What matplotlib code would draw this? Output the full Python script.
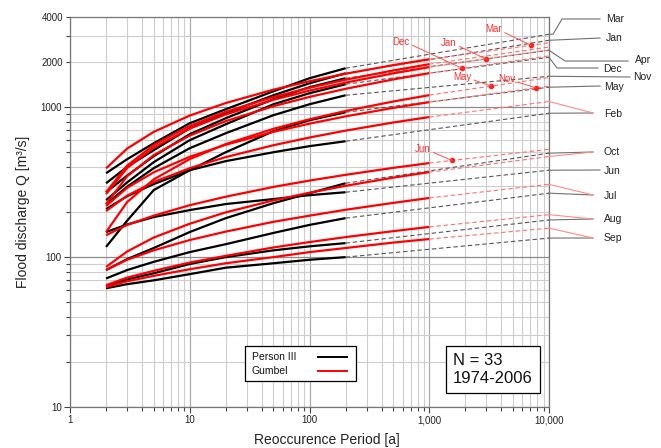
import numpy as np
import matplotlib
matplotlib.use('Agg')
import matplotlib.pyplot as plt
from matplotlib.ticker import FixedLocator, FixedFormatter, NullFormatter, LogLocator, FuncFormatter
from matplotlib.lines import Line2D
from matplotlib.patches import Rectangle
from matplotlib.transforms import IdentityTransform

plt.rcParams['font.family'] = ['Liberation Sans', 'DejaVu Sans']

# ---------------- data ----------------
months = ['Mar', 'Apr', 'Jan', 'Dec', 'Nov', 'May', 'Feb', 'Jun', 'Oct', 'Jul', 'Aug', 'Sep']

# Pearson III (solid black, T = 2..200) and dashed extension end at T = 10000
T_p3 = [2, 3, 5, 10, 20, 50, 100, 200]
p3 = {
    'Mar': [363, 450, 575, 782, 970, 1278, 1561, 1820],
    'Apr': [271, 350, 471, 661, 845, 1131, 1360, 1561],
    'Jan': [311, 400, 517, 724, 912, 1202, 1445, 1685],
    'Dec': [240, 315, 430, 603, 770, 1047, 1240, 1424],
    'Nov': [226, 295, 392, 533, 671, 885, 1047, 1202],
    'May': [117, 175, 280, 380, 501, 692, 819, 926],
    'Feb': [209, 255, 307, 380, 437, 501, 550, 593],
    'Jun': [147, 165, 185, 206, 226, 244, 259, 271],
    'Oct': [82, 97, 115, 147, 182, 229, 267, 311],
    'Jul': [72, 82, 93, 108, 122, 145, 164, 182],
    'Aug': [64, 71, 78, 90, 100, 111, 118, 124],
    'Sep': [62, 66, 70, 77, 85, 91, 96, 100],
}
p3_end = {'Mar': 3067, 'Apr': 2399, 'Jan': 2797, 'Dec': 2154, 'Nov': 1609, 'May': 1360,
          'Feb': 912, 'Jun': 380, 'Oct': 494, 'Jul': 267, 'Aug': 177, 'Sep': 134}

# Gumbel (solid red, T = 2..1000) and dashed extension end at T = 10000
T_gum = [2, 3, 5, 10, 20, 50, 100, 200, 500, 1000]
gum = {
    'Mar': [391, 530, 685, 880, 1067, 1310, 1491, 1672, 1910, 2090],
    'Apr': [271, 408, 560, 751, 934, 1171, 1349, 1526, 1760, 1937],
    'Jan': [263, 393, 538, 720, 895, 1121, 1291, 1460, 1682, 1851],
    'Dec': [226, 346, 479, 647, 808, 1016, 1172, 1327, 1533, 1688],
    'Nov': [219, 290, 368, 467, 562, 685, 777, 869, 990, 1081],
    'May': [147, 233, 330, 451, 568, 718, 831, 944, 1092, 1204],
    'Feb': [203, 257, 317, 392, 465, 558, 628, 698, 791, 860],
    'Jun': [140, 164, 189, 222, 253, 294, 324, 354, 394, 424],
    'Oct': [86, 109, 135, 167, 199, 239, 269, 299, 339, 369],
    'Jul': [82, 96, 111, 130, 148, 172, 189, 207, 230, 248],
    'Aug': [65, 73, 81, 92, 102, 116, 126, 136, 149, 159],
    'Sep': [63, 69, 75, 83, 91, 100, 108, 115, 125, 132],
}
gum_end = {'Mar': 2690, 'Apr': 2523, 'Jan': 2410, 'Dec': 2202, 'Nov': 1384, 'May': 1577,
           'Feb': 1092, 'Jun': 524, 'Oct': 469, 'Jul': 306, 'Aug': 192, 'Sep': 156}
T_ext_end = 10000

# red in-plot labels (month, return period of the marked point)
inner_months = ['Mar', 'Jan', 'Dec', 'May', 'Nov', 'Jun']
inner_T = [7080, 2985, 1884, 3286, 7793, 1551]

x_ticks = [1, 10, 100, 1000, 10000]
x_ticklabels = ['1', '10', '100', '1,000', '10,000']
y_major = [10, 100, 1000]
y_minor_labelled = [2000, 4000]
legend_labels = ['Person III', 'Gumbel']
info_text = 'N = 33\n1974-2006'

# ---------------- figure ----------------
W, H = 661, 448
fig = plt.figure(figsize=(W / 100, H / 100), dpi=100)
fig.subplots_adjust(left=70 / W, right=549 / W, bottom=41 / H, top=1 - 17 / H)
ax = fig.add_subplot(111)
ax.set_xscale('log')
ax.set_yscale('log')
ax.set_xlim(1, 10000)
ax.set_ylim(10, 4000)

ax.xaxis.set_major_locator(FixedLocator(x_ticks))
ax.xaxis.set_major_formatter(FixedFormatter(x_ticklabels))
ax.xaxis.set_minor_locator(LogLocator(base=10, subs=np.arange(2, 10), numticks=30))
ax.xaxis.set_minor_formatter(NullFormatter())
ax.yaxis.set_major_locator(FixedLocator(y_major))
ax.yaxis.set_major_formatter(FuncFormatter(lambda v, p: '%d' % v))
ax.yaxis.set_minor_locator(LogLocator(base=10, subs=np.arange(2, 10), numticks=30))
ax.yaxis.set_minor_formatter(FuncFormatter(
    lambda v, p: ('%d' % round(v)) if any(abs(v - q) < 1 for q in y_minor_labelled) else ''))

ax.tick_params(which='both', direction='out', labelsize=7, colors='#444444',
               labelcolor='#222222', width=0.8)
ax.tick_params(which='major', length=4, pad=2)
ax.tick_params(which='minor', length=3, pad=2)

ax.grid(which='minor', color='#cdcdcd', lw=0.8, zorder=0)
ax.xaxis.grid(which='major', color='#ababab', lw=0.9, zorder=0)
ax.yaxis.grid(which='major', color='#8c8c8c', lw=0.9, zorder=0)
ax.set_axisbelow(True)
for s in ax.spines.values():
    s.set_color('#777777')
    s.set_linewidth(0.9)

# curves
for m in months:
    ax.plot(T_p3, p3[m], color='black', lw=1.6, zorder=3, solid_capstyle='butt',
            solid_joinstyle='round')
    ax.plot([T_p3[-1], T_ext_end], [p3[m][-1], p3_end[m]], color='#555555', lw=0.8,
            ls=(0, (4, 2.5)), zorder=2)
for m in months:
    ax.plot(T_gum, gum[m], color='#ff0000', lw=1.6, zorder=4, solid_capstyle='butt',
            solid_joinstyle='round')
    ax.plot([T_gum[-1], T_ext_end], [gum[m][-1], gum_end[m]], color='#ff6f6f', lw=0.8,
            ls=(0, (4, 2.5)), zorder=2)

# inner red labels with dots on the Gumbel extension
inner_offsets = {'Mar': (-27, 11.5), 'Jan': (-27, 11.5), 'Dec': (-44, 19),
                 'May': (-21, 6.5), 'Nov': (-21, 6), 'Jun': (-21, 8)}
for m, t in zip(inner_months, inner_T):
    lx = np.log10([T_gum[-1], T_ext_end])
    ly = np.log10([gum[m][-1], gum_end[m]])
    q = 10 ** np.interp(np.log10(t), lx, ly)
    ax.plot([t], [q], 'o', color='#ff2020', ms=3, zorder=6)
    ax.annotate(m, xy=(t, q), xytext=inner_offsets[m], textcoords='offset points',
                ha='center', va='center', fontsize=7, color='#ff3030', zorder=6,
                arrowprops=dict(arrowstyle='-', color='#ff5050', lw=0.7,
                                shrinkA=0, shrinkB=0, relpos=(1, 0.3)))

# right-side labels with leader lines (pixel layout)
def to_px(T, Q):
    x, y = ax.transData.transform((T, Q))
    return x, y

def leader(T, Q, pts, color):
    x0, y0 = to_px(T, Q)
    xs = [x0] + [p[0] for p in pts]
    ys = [y0] + [H - p[1] for p in pts]
    fig.add_artist(Line2D(xs, ys, transform=IdentityTransform(), color=color, lw=0.8))

grey = '#707070'
pink = '#ff8a8a'
right_layout = {
    # month: (text x, text y, black leader pts, draw red leader)
    'Mar': (606, 19, [(553, None), (562, 19), (600, 19)], False),
    'Jan': (606, 38, [(600, 38)], False),
    'Apr': (635, 60, [(565, 61), (628, 61)], False),
    'Dec': (603, 69, [(557, 68), (598, 68)], False),
    'Nov': (633, 77, [(630, 77)], False),
    'May': (604, 87, [(600, 86)], False),
    'Feb': (604, 114, [(593, 113)], True),
    'Oct': (603, 152, [(593, 152)], True),
    'Jun': (604, 171, [(600, 170)], False),
    'Jul': (604, 196, [(593, 195)], True),
    'Aug': (604, 219, [(593, 219)], True),
    'Sep': (604, 238, [(593, 238)], True),
}
for m, (tx, ty, pts, red) in right_layout.items():
    x0, y0 = to_px(T_ext_end, p3_end[m])
    pts2 = [(p[0], H - y0 if p[1] is None else p[1]) for p in pts]
    leader(T_ext_end, p3_end[m], pts2, grey)
    if red:
        leader(T_ext_end, gum_end[m], [pts[-1]], pink)
    fig.text(tx, H - ty, m, transform=IdentityTransform(), fontsize=7.5,
             color='#222222', ha='left', va='center')

# legend (drawn manually: text left, line sample right)
def ax_xy(px, py):
    return (px - 70) / 479, (407 - py) / 390

lx0, ly0 = ax_xy(245, 381)
lx1, ly1 = ax_xy(356, 346)
ax.add_patch(Rectangle((lx0, ly0), lx1 - lx0, ly1 - ly0, transform=ax.transAxes,
                       facecolor='white', edgecolor='black', lw=0.9, zorder=10))
for lab, col, py in zip(legend_labels, ['black', '#ff0000'], [356.5, 370.5]):
    tx, ty = ax_xy(252, py)
    ax.text(tx, ty, lab, transform=ax.transAxes, fontsize=7.5, ha='left', va='center',
            color='#111111', zorder=11)
    a, b = ax_xy(318, py)
    c, _ = ax_xy(347, py)
    ax.add_line(Line2D([a, c], [b, b], transform=ax.transAxes, color=col, lw=1.4, zorder=11))

# N box
bx0, by0 = ax_xy(446, 393)
bx1, by1 = ax_xy(540, 346)
ax.add_patch(Rectangle((bx0, by0), bx1 - bx0, by1 - by0, transform=ax.transAxes,
                       facecolor='white', edgecolor='black', lw=0.9, zorder=10))
tx, ty = ax_xy(453, 369.5)
ax.text(tx, ty, info_text, transform=ax.transAxes,
        fontsize=12, ha='left', va='center', linespacing=1.25, color='#111111', zorder=11)

ax.set_xlabel('Reoccurence Period [a]', fontsize=10, color='#222222')
ax.xaxis.set_label_coords(0.537, -0.066)
ax.set_ylabel('Flood discharge Q [m\u00b3/s]', fontsize=10, color='#222222')
ax.yaxis.set_label_coords(-0.084, 0.5)

fig.savefig('out.png', dpi=100)
